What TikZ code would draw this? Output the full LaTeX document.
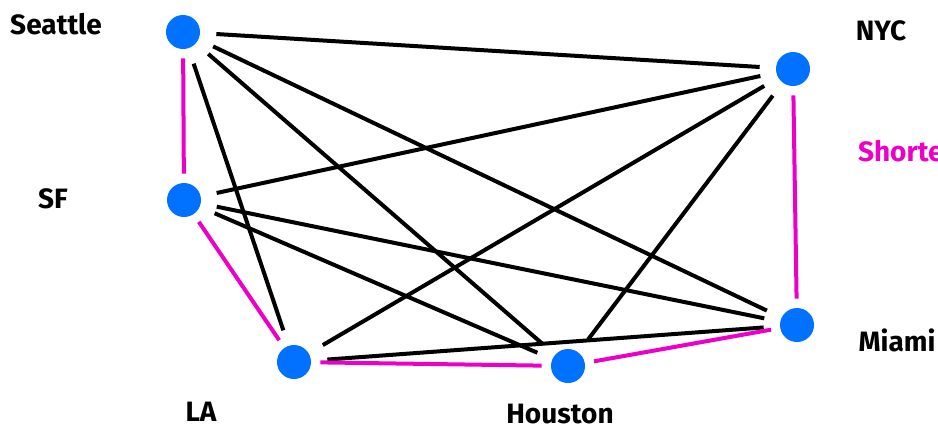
\documentclass[tikz,border=0pt]{standalone}
\usepackage{fontspec}
\setmainfont{Fira Sans}
\definecolor{cityblue}{RGB}{0,114,255}
\definecolor{routepink}{RGB}{236,0,200}
\begin{document}
\begin{tikzpicture}[x=0.5pt,y=-0.5pt,
  city/.style={circle,fill=cityblue,minimum size=17pt,inner sep=0pt},
  lbl/.style={font=\fontsize{14}{17}\selectfont\bfseries,text=black},
  link/.style={line width=2pt,black,shorten <=8pt,shorten >=8pt},
  route/.style={line width=2pt,routepink,shorten <=4.5pt,shorten >=4.5pt}]
\useasboundingbox (0,0) rectangle (938,430);
% cities
\node[city] (sea) at (183,32) {};
\node[city] (nyc) at (793,69) {};
\node[city] (sf)  at (184,200) {};
\node[city] (la)  at (294,362) {};
\node[city] (hou) at (568,366) {};
\node[city] (mia) at (797,325) {};
% labels
\node[lbl] (tsea) at (56,24) {Seattle};
\node[lbl] (tnyc) at (881,31) {NYC};
\node[lbl] (tsf)  at (53,199) {SF};
\node[lbl] (tmia) at (897,340) {Miami};
\node[lbl] (tla)  at (201,412) {LA};
\node[lbl] (thou) at (560,414) {Houston};
\node[lbl,text=routepink,anchor=west] (tshort) at (851,151) {Shorte};
% all other connections
\draw[link] (sea) -- (nyc);
\draw[link] (sea) -- (la);
\draw[link] (sea) -- (hou);
\draw[link] (sea) -- (mia);
\draw[link] (sf) -- (nyc);
\draw[link] (sf) -- (hou);
\draw[link] (sf) -- (mia);
\draw[link] (nyc) -- (la);
\draw[link] (nyc) -- (hou);
\draw[link] (la) -- (mia);
% shortest route
\draw[route] (sea) -- (sf);
\draw[route] (sf) -- (la);
\draw[route] (la) -- (hou);
\draw[route] (hou) -- (mia);
\draw[route] (mia) -- (nyc);
\end{tikzpicture}
\end{document}
